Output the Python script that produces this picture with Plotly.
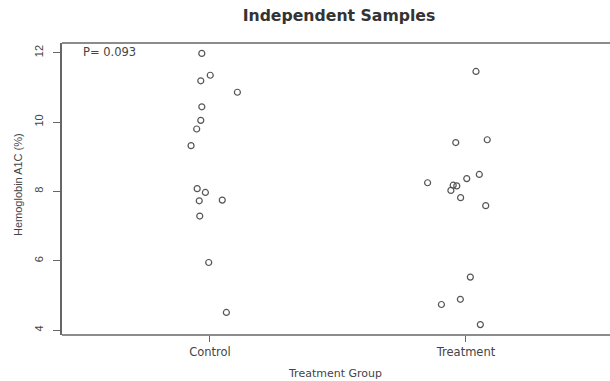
import plotly.graph_objects as go

# Data
groups = ["Control", "Treatment"]
control_values = [11.98, 11.35, 11.19, 10.86, 10.44, 10.05, 9.80, 9.32, 8.08, 7.97, 7.73, 7.75, 7.29, 5.95, 4.51]
control_jitter = [-0.032, 0.001, -0.036, 0.107, -0.032, -0.036, -0.052, -0.074, -0.050, -0.018, -0.042, 0.048, -0.040, -0.005, 0.064]
treatment_values = [11.46, 9.41, 9.49, 8.37, 8.49, 8.25, 8.18, 8.16, 8.03, 7.82, 7.59, 5.53, 4.89, 4.74, 4.16]
treatment_jitter = [0.039, -0.040, 0.083, 0.003, 0.052, -0.150, -0.050, -0.036, -0.059, -0.021, 0.077, 0.017, -0.022, -0.096, 0.056]
y_ticks = [4, 6, 8, 10, 12]
p_label = "P= 0.093"

HFONT = "DejaVu Sans, Verdana, sans-serif"
VFONT = "Liberation Sans, Arial, sans-serif"
GRAY = "#444444"
LINE = "#666666"

W, H = 610, 381
ML, MT, MB, MR = 62, 43, 46, 0
PW, PH = W - ML - MR, H - MT - MB

fig = go.Figure()
for i, (vals, jit) in enumerate([(control_values, control_jitter), (treatment_values, treatment_jitter)]):
    fig.add_trace(go.Scatter(
        x=[i + 1 + j for j in jit],
        y=vals,
        mode="markers",
        marker=dict(symbol="circle-open", size=6, color="#555555", line=dict(width=1.2, color="#555555")),
        showlegend=False,
        hoverinfo="skip",
        cliponaxis=False,
    ))

fig.update_layout(
    width=W, height=H,
    margin=dict(l=ML, r=MR, t=MT, b=MB),
    paper_bgcolor="white", plot_bgcolor="rgba(0,0,0,0)",
    font=dict(family=HFONT, color=GRAY, size=11),
    title=dict(text="Independent Samples", x=339 / W, xref="container", xanchor="center",
               y=1 - 16 / H, yref="container", yanchor="middle",
               font=dict(family=HFONT, size=15.7, color="#333333", weight="bold")),
    xaxis=dict(range=[0.4219, 0.4219 + PW / 256], tickvals=[1, 2], ticktext=groups, automargin=False,
               showgrid=False, zeroline=False, showline=False,
               ticks="outside", ticklen=6,
               tickcolor=LINE, tickwidth=1.2, tickfont=dict(family=HFONT, size=11.5, color=GRAY)),
    yaxis=dict(range=[3.86, 12.28], tickvals=y_ticks, ticktext=[str(t) for t in y_ticks], automargin=False,
               showgrid=False, zeroline=False, showline=True, mirror=False,
               linecolor=LINE, linewidth=1.5, ticks="outside", ticklen=7,
               tickcolor=LINE, tickwidth=1.2, tickangle=-90, tickfont=dict(family=VFONT, size=11, color=GRAY),
               ticklabelstandoff=6),
)

# top and bottom frame lines (the reference frame runs past the right edge)
for yy in (0, 1):
    fig.add_shape(type="line", xref="paper", yref="paper", x0=0, x1=1.05, y0=yy, y1=yy,
                  line=dict(color=LINE, width=1.5), layer="above")

# P value text
fig.add_annotation(text=p_label, xref="paper", yref="paper", x=(81 - ML) / PW, y=1 - (52 - MT) / PH,
                   xanchor="left", yanchor="middle", showarrow=False,
                   font=dict(family=HFONT, size=11.5, color=GRAY))
# x axis title
fig.add_annotation(text="Treatment Group", xref="paper", yref="paper", x=(335 - ML) / PW,
                   y=-(373 - (MT + PH)) / PH, xanchor="center", yanchor="middle", showarrow=False,
                   font=dict(family=HFONT, size=11, color=GRAY))
# y axis title
fig.add_annotation(text="Hemoglobin A1C (%)", xref="paper", yref="paper", x=-(ML - 18) / PW,
                   y=1 - (185 - MT) / PH, xanchor="center", yanchor="middle", showarrow=False,
                   textangle=-90, font=dict(family=VFONT, size=11, color=GRAY))

fig.write_html("out.html", config={"displayModeBar": False},
               post_script="document.body.style.margin='0';document.body.style.overflow='hidden';")
